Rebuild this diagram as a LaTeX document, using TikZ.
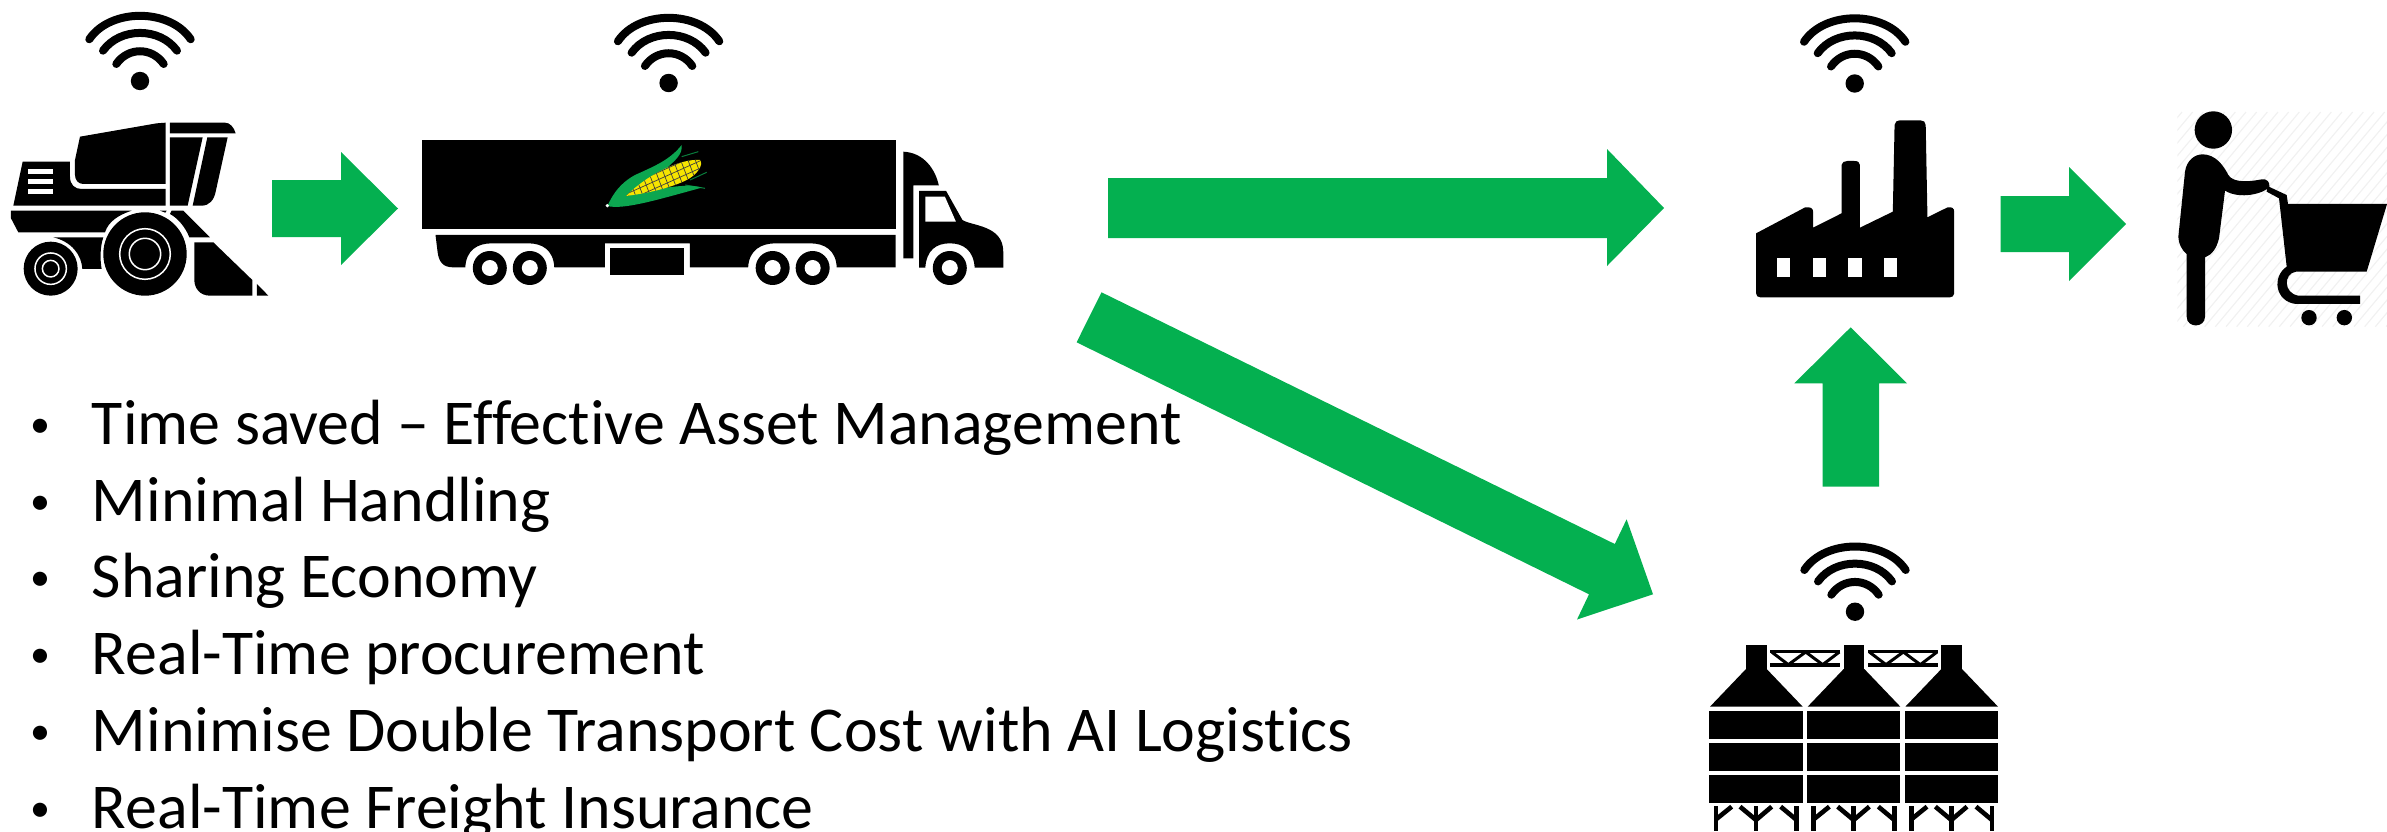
\documentclass[tikz,border=0pt]{standalone}
\usepackage{fontspec}
\setmainfont[Ligatures=CommonOff]{Carlito}
\definecolor{flowgreen}{HTML}{04B050}
\definecolor{huskgreen}{HTML}{0CA650}
\definecolor{cobyellow}{HTML}{F6E400}
\definecolor{hatchgrey}{HTML}{F1F1F1}
\tikzset{
  flow/.style={fill=flowgreen,draw=none},
  icon/.style={fill=black,draw=none},
  gap/.style={fill=white,draw=none},
  ringline/.style={draw=white,line width=1.5pt},
  wave/.style={draw=black,line width=8pt,line cap=round},
  bullet/.style={anchor=base west,inner sep=0pt,outer sep=0pt,font=\fontsize{63.9}{64}\selectfont,text=black},
  legline/.style={draw=black,line width=4.6pt},
  truss/.style={draw=black,line width=3pt},
}
\newcommand{\wifisign}[2]{%
  \begin{scope}[shift={(#1,#2)}]
    \draw[wave] (-50.7,-41.7) .. controls (-30,-73) and (30,-73) .. (50.7,-41.7);
    \draw[wave] (-37,-30.3) .. controls (-20,-54) and (20,-54) .. (37,-30.3);
    \draw[wave] (-23.7,-17) .. controls (-12,-34) and (12,-34) .. (23.7,-17);
    \fill[icon] (0,0) circle [radius=9.2pt];
  \end{scope}}
\newcommand{\listline}[4]{%
  \node[bullet] (#1) at (#2,#3) {\makebox[62pt][l]{\raisebox{6.5pt}{\fontsize{40}{40}\selectfont •}}#4};}
\begin{document}
\begin{tikzpicture}[x=1pt,y=-1pt]
\useasboundingbox (0,0) rectangle (2387,832);
\clip (0,0) rectangle (2387,832);

% signal signs
\wifisign{140}{81}
\wifisign{668.6}{83}
\wifisign{1854.7}{83.5}
\wifisign{1855}{611.7}

% block arrows
\fill[flow] (272,180) -- (341,180) -- (341,152) -- (398,208.5) -- (341,265) -- (341,237) -- (272,237) -- cycle;
\fill[flow] (1108,178) -- (1607,178) -- (1607,149) -- (1664,208) -- (1607,266) -- (1607,238) -- (1108,238) -- cycle;
\fill[flow] (1101.5,292.3) -- (1614.8,544) -- (1626.6,519.3) -- (1653,594.3) -- (1577,619.5) -- (1589,594.3) -- (1076.6,342.3) -- cycle;
\fill[flow] (1822.7,486.7) -- (1822.7,383.3) -- (1794.3,383.3) -- (1850.7,327.3) -- (1907,383.3) -- (1879,383.3) -- (1879,486.7) -- cycle;
\fill[flow] (2000.6,196) -- (2069,196) -- (2069,167) -- (2126,224) -- (2069,281) -- (2069,252) -- (2000.6,252) -- cycle;

% harvester
\begin{scope}[x=0.33333pt,y=-0.33333pt]
  \fill[icon] (240,410) -- (470,370) -- (497,368) -- (497,552) -- (250,552) .. controls (235,552) and (225,540) .. (225,525) -- (225,480) -- cycle;
  \fill[icon] (510,368) -- (675,368) .. controls (690,368) and (702,382) .. (707,400) -- (510,400) -- cycle;
  \fill[icon] (510,412) -- (608,412) -- (563,617) -- (510,617) -- cycle;
  \fill[icon] (622,412) -- (683,412) -- (647,575) .. controls (642,600) and (628,617) .. (605,617) -- (578,617) -- cycle;
  \fill[icon] (68,485) -- (210,485) -- (210,530) .. controls (210,555) and (225,567) .. (245,567) -- (497,567) -- (497,617) -- (40,617) -- cycle;
  \fill[gap] (85,507) rectangle (160,523);
  \fill[gap] (85,537) rectangle (160,552);
  \fill[gap] (85,566) rectangle (160,581);
  \fill[icon] (33,632) -- (395,632) .. controls (355,645) and (325,665) .. (315,697) -- (55,697) -- (33,655) -- cycle;
  \fill[icon] (480,632) -- (500,632) -- (496,638) -- cycle;
  \fill[icon] (515,632) -- (550,632) -- (630,712) -- (568,712) .. controls (558,685) and (535,655) .. (510,642) -- cycle;
  \fill[icon] (160,712) -- (310,712) .. controls (300,740) and (300,780) .. (305,807) -- (247,807) .. controls (245,765) and (215,725) .. (160,712) -- cycle;
  \fill[icon] (435,762) circle [radius=41.7pt];
  \draw[ringline] (435,762) circle [radius=25.3pt];
  \draw[ringline] (435,762) circle [radius=15.7pt];
  \fill[icon] (152,806) circle [radius=27pt];
  \draw[ringline] (152,806) circle [radius=15.7pt];
  \draw[ringline] (152,806) circle [radius=8.3pt];
  \fill[icon] (583,727) -- (640,727) -- (757,840) -- (757,887) -- (630,887) .. controls (600,887) and (583,865) .. (583,840) -- cycle;
  \fill[icon] (771,852) -- (805,887) -- (771,887) -- cycle;
\end{scope}

% truck
\begin{scope}[shift={(400,0)},x=0.40816pt,y=-0.33333pt]
  \fill[icon] (53,420) rectangle (1214,688);
  \fill[icon] (87,705) -- (1214,705) -- (1214,802) -- (1070,802)
     .. controls (1068,750) and (1040,730) .. (1005,730) -- (920,730)
     .. controls (885,730) and (855,750) .. (853,802) -- (710,802) -- (710,730) -- (502,730) -- (502,802) -- (378,802)
     .. controls (376,750) and (348,730) .. (315,730) -- (225,730)
     .. controls (190,730) and (162,750) .. (160,802) -- (130,802)
     .. controls (105,802) and (95,785) .. (92,755) -- cycle;
  \fill[icon] (514,745) rectangle (695,826);
  \foreach \wx in {220,318,913,1011,1347} {
    \fill[icon] (\wx,804) circle [radius=17pt];
    \fill[gap] (\wx,804) circle [radius=8pt];
  }
  \fill[icon] (1233,455) .. controls (1285,458) and (1312,510) .. (1320,556) -- (1258,556) -- (1258,775) -- (1233,775) -- cycle;
  \fill[icon] (1272,573) -- (1338,573) -- (1378,660) .. controls (1400,678) and (1478,675) .. (1478,755) -- (1478,803) -- (1408,803)
     .. controls (1405,750) and (1380,730) .. (1347,730) .. controls (1314,730) and (1290,750) .. (1287,803) -- (1272,803) -- cycle;
  \fill[gap] (1287,590) -- (1335,590) -- (1362,665) -- (1287,665) -- cycle;
\end{scope}

% corn cob on the trailer
\begin{scope}[shift={(590,135)},x=0.33333pt,y=-0.33333pt]
  \draw[huskgreen!75!black,line width=1pt] (275,65) -- (325,50);
  \draw[huskgreen!75!black,line width=1pt] (300,135) -- (350,112);
  \draw[huskgreen!75!black,line width=1pt] (285,150) -- (345,160);
  \fill[huskgreen] (52,213) .. controls (70,175) and (90,145) .. (135,120) .. controls (190,95) and (240,75) .. (275,30) .. controls (278,60) and (255,75) .. (230,100) .. controls (180,125) and (130,160) .. (100,190) -- cycle;
  \fill[huskgreen] (52,213) .. controls (100,225) and (200,195) .. (335,158) .. controls (280,140) and (170,170) .. (100,185) -- cycle;
  \begin{scope}
    \clip (108,183) .. controls (170,120) and (270,70) .. (330,75) .. controls (342,90) and (320,120) .. (290,135) .. controls (240,160) and (170,175) .. (108,183) -- cycle;
    \fill[cobyellow] (100,60) rectangle (345,190);
    \foreach \cb in {-60,-38,...,80} {
      \draw[black!75,line width=0.7pt] (100,175+\cb) -- (345,65+\cb);
    }
    \foreach \cr in {90,112,...,340} {
      \draw[black!75,line width=0.7pt] (\cr,60) -- (\cr+50,190);
    }
  \end{scope}
  \fill[white] (52,212) circle [radius=1.8pt];
\end{scope}

% factory
\begin{scope}[shift={(1700,0)},x=0.43822pt,y=-0.33333pt]
  \fill[icon] (128,700) -- (240,622) .. controls (252,620) and (258,625) .. (258,635) -- (258,683) -- (323,640) -- (323,495) .. controls (323,487) and (330,483) .. (336,483) -- (352,483) .. controls (360,483) and (365,487) .. (365,495) -- (365,683) -- (440,635) -- (444,375) .. controls (444,366) and (450,361) .. (458,361) -- (503,361) .. controls (510,361) and (515,366) .. (515,375) -- (519,652) -- (565,622) .. controls (575,620) and (580,625) .. (580,635) -- (580,880) .. controls (580,888) and (575,892) .. (570,892) -- (138,892) .. controls (132,892) and (128,888) .. (128,880) -- cycle;
  \foreach \wd in {175,257,338,419} {
    \fill[gap] (\wd,773) rectangle (\wd+31,830);
  }
\end{scope}

% silos
\begin{scope}[shift={(1660,520)},x=0.33333pt,y=-0.33333pt]
  \foreach \sx in {0,293,586} {
    \begin{scope}[shift={(\sx,0)}]
      \fill[icon] (258,376) rectangle (320,450);
      \fill[icon] (150,560) -- (258,447) -- (320,447) -- (428,560) -- cycle;
      \fill[icon] (148,572) rectangle (428,658);
      \fill[icon] (148,668) rectangle (428,753);
      \fill[icon] (148,764) rectangle (428,850);
      \draw[legline] (168,858) -- (168,932);
      \draw[legline] (168,898) -- (215,860);
      \draw[legline] (288,858) -- (288,932);
      \draw[legline] (240,860) -- (288,900) -- (335,860);
      \draw[legline] (410,858) -- (410,932);
      \draw[legline] (362,860) -- (410,900);
    \end{scope}
  }
  \foreach \tx in {0,293} {
    \begin{scope}[shift={(\tx,0)}]
      \fill[icon] (330,389) rectangle (541,399);
      \fill[icon] (330,430) rectangle (541,440);
      \draw[truss] (335,396) -- (385,434) -- (437,396) -- (488,434) -- (538,396);
    \end{scope}
  }
\end{scope}

% shopper and cart
\begin{scope}[shift={(2170,100)},x=0.33333pt,y=-0.33333pt]
  \begin{scope}
    \clip (22,36) rectangle (651,680);
    \foreach \hl in {-600,-568,...,660} {
      \draw[hatchgrey,line width=1.2pt] (\hl,680) -- (\hl+540,36);
    }
  \end{scope}
  \fill[icon] (130,90) circle [radius=18.7pt];
  \fill[icon] (25,410) -- (45,215) .. controls (50,180) and (75,163) .. (98,163) .. controls (135,163) and (160,195) .. (175,225) .. controls (190,250) and (240,245) .. (275,238) .. controls (290,236) and (300,245) .. (298,260) .. controls (285,280) and (210,300) .. (165,272) -- (147,415) .. controls (140,445) and (125,465) .. (105,472) -- (105,650) .. controls (105,685) and (50,685) .. (50,650) -- (50,462) .. controls (35,450) and (25,430) .. (25,410) -- cycle;
  \fill[icon] (292,258) -- (350,285) -- (354,312) -- (651,312) -- (590,515) -- (378,515) .. controls (340,520) and (340,580) .. (385,587) -- (570,587) -- (570,612) -- (378,612) .. controls (315,605) and (305,530) .. (350,500) -- (327,295) -- (290,275) -- cycle;
  \fill[icon] (417,653) circle [radius=7.7pt];
  \fill[icon] (523,653) circle [radius=7.7pt];
\end{scope}

% benefit list
\listline{l1}{30}{444}{Time saved – Effective Asset Management}
\listline{l2}{30}{521}{Minimal Handling}
\listline{l3}{30}{597}{Sharing Economy}
\listline{l4}{30}{674}{Real-Time procurement}
\listline{l5}{30}{751}{Minimise Double Transport Cost with AI Logistics}
\listline{l6}{30}{828}{Real-Time Freight Insurance}
\end{tikzpicture}
\end{document}
